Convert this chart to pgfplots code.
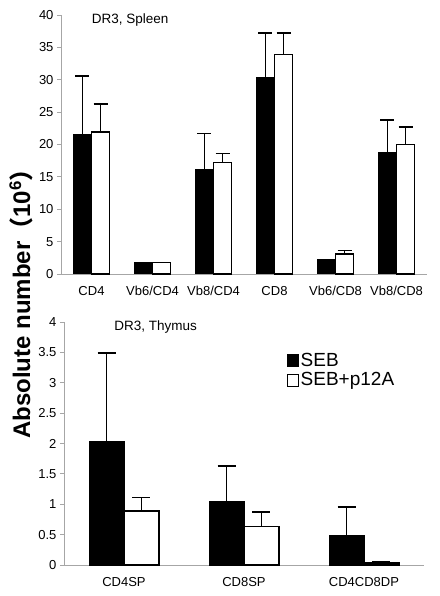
\documentclass[border=0pt]{standalone}
\usepackage{fontspec}
\setmainfont{Liberation Sans}
\newfontfamily\cjk{Noto Sans CJK SC}
\usepackage{pgfplots}
\pgfplotsset{compat=1.18}
\pgfplotsset{
  panel/.style={
    scale only axis,
    axis x line*=bottom, axis y line*=left,
    axis line style={gray!70, line width=0.8pt},
    tick align=outside,
    major tick length=4pt,
    minor tick length=4pt,
    every tick/.style={gray!70, line width=0.8pt},
    ybar, 
    /pgf/number format/assume math mode=true,
    yticklabel style={font=\fontsize{13}{15}\selectfont},
    xticklabel style={font=\fontsize{13}{15}\selectfont, yshift=-5pt},
    error bars/y dir=plus, error bars/y explicit,
    error bars/error bar style={black, line width=1.6pt},
    ymin=0, clip=false,
  },
  blackbar/.style={fill=black, draw=black, line width=1pt},
  whitebar/.style={fill=white, draw=black, line width=1.4pt},
}
\begin{document}
\begin{tikzpicture}[x=1pt,y=1pt]
\useasboundingbox (0,0) rectangle (439,596);
% ---------- top panel ----------
\begin{axis}[panel,
  at={(61pt,322pt)}, anchor=south west,
  width=366pt, height=259pt,
  xmin=-0.5, xmax=5.5, ymax=40,
  ytick={0,5,...,40},
  xtick={0,...,5},
  xticklabels={CD4,Vb6/CD4,Vb8/CD4,CD8,Vb6/CD8,Vb8/CD8},
  minor xtick={0.5,1.5,...,5.5},
  xtick style={draw=none},
  minor tick style={gray!70, line width=0.8pt},
  bar width=0.3,
  error bars/error mark options={rotate=90, mark size=7pt, line width=1.6pt, black},
]
\addplot[blackbar, bar shift=-0.15] coordinates {
  (0,21.6) +- (0,9.0)
  (1,1.7) +- (0,0)
  (2,16.2) +- (0,5.5)
  (3,30.3) +- (0,6.9)
  (4,2.2) +- (0,0)
  (5,18.8) +- (0,5.0)
};
\addplot[whitebar, bar shift=0.15] coordinates {
  (0,21.9) +- (0,4.4)
  (1,1.8) +- (0,0)
  (2,17.2) +- (0,1.4)
  (3,33.9) +- (0,3.3)
  (4,3.1) +- (0,0.5)
  (5,20.0) +- (0,2.7)
};
\node[anchor=west, font=\fontsize{13.5}{15}\selectfont] at (axis description cs:0.075,0.98) {DR3, Spleen};
\end{axis}
% ---------- bottom panel ----------
\begin{axis}[panel,
  at={(64pt,31pt)}, anchor=south west,
  width=360pt, height=243pt,
  xmin=-0.5, xmax=2.5, ymax=4,
  ytick={0,0.5,...,4},
  yticklabels={0,0.5,1,1.5,2,2.5,3,3.5,4},
  xtick={0,1,2},
  xticklabels={CD4SP,CD8SP,CD4CD8DP},
  minor xtick={0.5,1.5,2.5},
  xtick style={draw=none},
  minor tick style={gray!70, line width=0.8pt},
  bar width=0.29,
  error bars/error mark options={rotate=90, mark size=9pt, line width=1.6pt, black},
  legend style={draw=none, fill=none, at={(0.62,0.88)}, anchor=north west,
    font=\fontsize{19}{21}\selectfont, row sep=2pt, inner sep=0pt,
    nodes={inner sep=1.5pt}},
  legend cell align=left,
  legend image code/.code={\draw[#1, line width=0.8pt] (0pt,-6pt) rectangle (11pt,6pt);},
]
\addplot[blackbar, bar shift=-0.145] coordinates {
  (0,2.03) +- (0,1.46)
  (1,1.04) +- (0,0.59)
  (2,0.48) +- (0,0.47)
};
\addlegendentry{SEB}
\addplot[whitebar, bar shift=0.145] coordinates {
  (0,0.89) +- (0,0.22)
  (1,0.63) +- (0,0.24)
  (2,0.03) +- (0,0.02)
};
\addlegendentry{SEB+p12A}
\node[anchor=west, font=\fontsize{13.5}{15}\selectfont] at (axis description cs:0.13,0.98) {DR3, Thymus};
\end{axis}
% y label
\node[rotate=90, font=\bfseries\fontsize{24}{27}\selectfont] at (21,298)
  {Absolute number{\cjk （}10\textsuperscript{6}{\cjk ）}};
\end{tikzpicture}
\end{document}
